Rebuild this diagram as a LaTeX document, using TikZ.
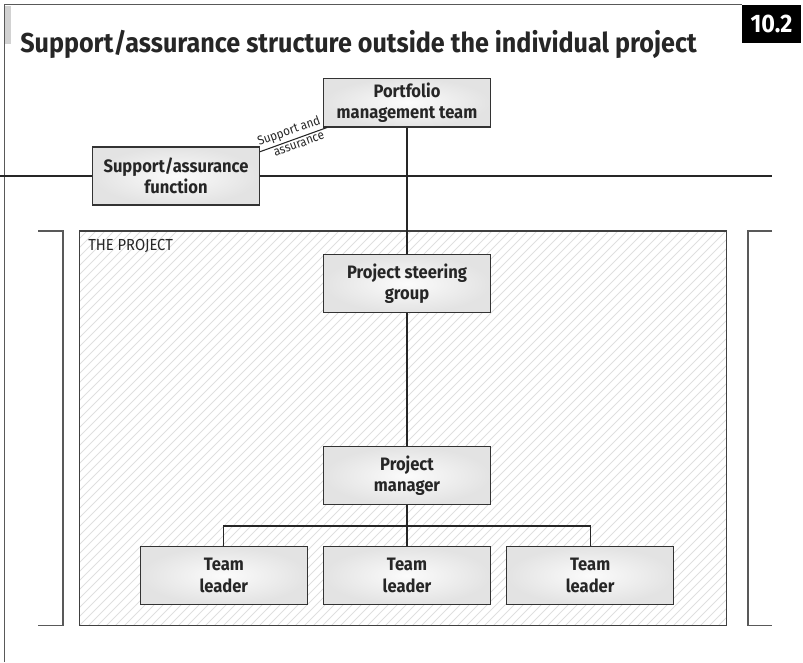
\documentclass[tikz,border=0pt]{standalone}
\usepackage{fontspec}
\setmainfont{Fira Sans}[FakeStretch=0.92]
\usetikzlibrary{positioning}

\begin{document}
\begin{tikzpicture}[
        x=0.75pt, y=-0.75pt,
        box/.style={draw=black!80, line width=0.9pt, rectangle, inner color=gray!3, outer color=gray!22, minimum width=125pt, minimum height=43.5pt, align=center, font=\bfseries\fontsize{13.5}{16}\selectfont, text=black!85},
        line/.style={draw=black!85, line width=0.8pt},
        bracket/.style={draw=black!65, line width=1.4pt},
        hatch/.style={draw=gray!25, line width=0.7pt},
        tag/.style={sloped, inner sep=1.8pt, font=\fontsize{9.5}{11}\selectfont, text=black!85}
    ]
    \useasboundingbox (0,0) rectangle (803,662);

    % page frame and title
    \fill[gray!35] (4,6) rectangle (11,44);
    \draw[bracket, line width=1.1pt] (4.5,662) -- (4.5,4.5) -- (742,4.5);
    \node[anchor=base west, inner sep=0pt, font=\bfseries\fontsize{20.5}{24}\selectfont, text=black!85] (Title) at (20,52) {Support/assurance structure outside the individual project};
    \node[fill=black, text=white, minimum width=44pt, minimum height=28.5pt, inner sep=0pt, font=\bfseries\fontsize{19}{21}\selectfont] (Number) at (771.5,24) {10.2};

    % the project area
    \begin{scope}
        \clip (79.5,231) rectangle (726.5,625.5);
        \foreach \i in {0,9,...,1060}
            \draw[hatch] (\i-330,630) -- (\i+79,221);
    \end{scope}
    \draw[bracket, draw=black!75] (79.5,231) rectangle (726.5,625.5);
    \node[anchor=north west, inner sep=0pt, font=\fontsize{12}{13}\selectfont, text=black!85] (ProjectLabel) at (88,239) {THE PROJECT};
    \draw[bracket] (38,231) -- (63,231) -- (63,625.5) -- (38,625.5);
    \draw[bracket] (772,231) -- (748,231) -- (748,625.5) -- (772,625.5);

    % boxes
    \node[box, minimum height=36pt] (Portfolio) at (407,102.5) {Portfolio\\management team};
    \node[box] (Support) at (176,176) {Support/assurance\\function};
    \node[box, below=95pt of Portfolio] (Steering) {Project steering\\group};
    \node[box, below=99.5pt of Steering] (Manager) {Project\\manager};
    \node[box, below=30.5pt of Manager] (Leader2) {Team\\leader};
    \node[box, left=11.5pt of Leader2] (Leader1) {Team\\leader};
    \node[box, right=11.5pt of Leader2] (Leader3) {Team\\leader};

    \coordinate (LeftEnd) at (0,176);
    \coordinate (RightEnd) at (772,176);
    \coordinate (Bus) at (407,526);

    % connections
    \draw[line] (LeftEnd) -- (Support.west);
    \draw[line] (Support.east) -- (RightEnd);
    \draw[line] (Portfolio) -- (Steering);
    \draw[line] (Steering) -- (Manager);
    \draw[line] (Manager) -- (Leader2);
    \draw[line] (Leader1.north) |- (Bus) -| (Leader3.north);
    \draw[line] ([yshift=-4pt]Support.north east) -- node[tag, above, pos=0.48] {Support and} node[tag, below, pos=0.55] {assurance} ([xshift=3pt]Portfolio.south west);

\end{tikzpicture}
\end{document}
